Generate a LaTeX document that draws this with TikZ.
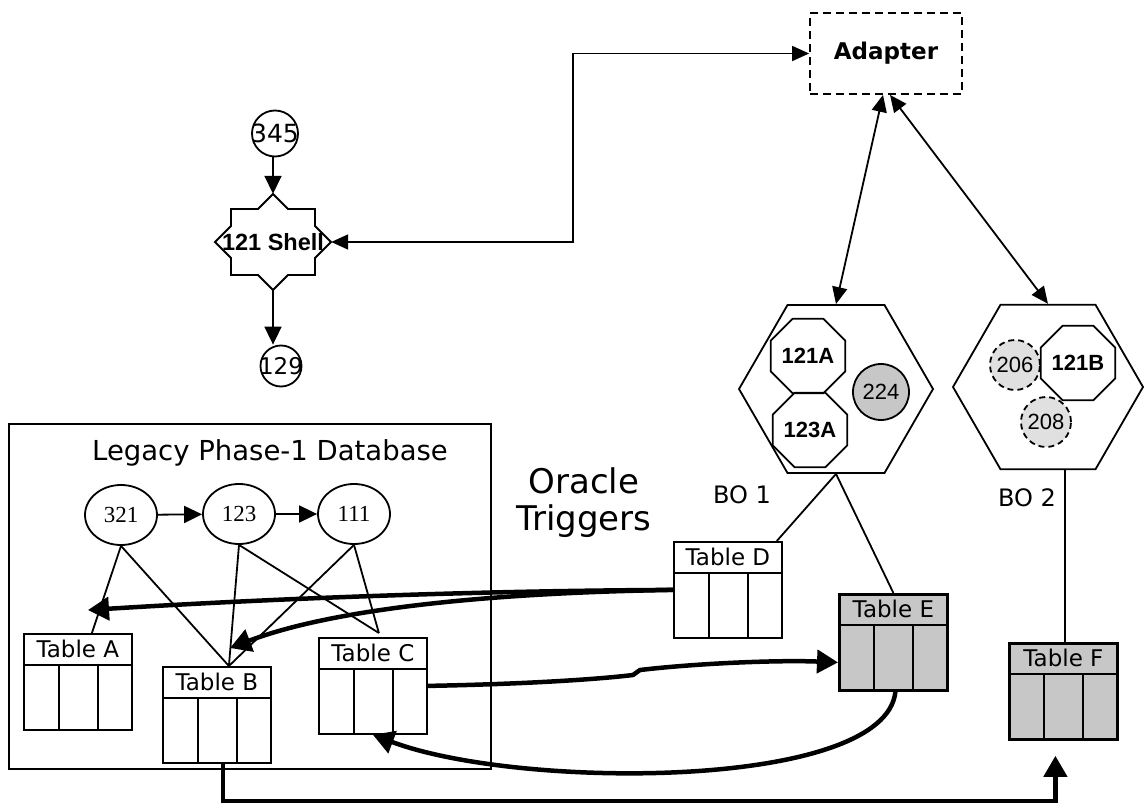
\documentclass[tikz,border=0pt]{standalone}
\usepackage{fontspec}
\setmainfont{DejaVu Sans}
\newfontfamily\arialf{Liberation Sans}
\newfontfamily\timesf{Liberation Serif}
\usetikzlibrary{arrows.meta,shapes.geometric}
\newcommand\dbtab[5]{%
  \node[tbl,#5] (#1) at (#2,#3) {};
  \draw[lnk] ([yshift=-32pt]#1.north west) -- ([yshift=-32pt]#1.north east);
  \draw[lnk] ([xshift=36pt,yshift=-32pt]#1.north west) -- ([xshift=36pt]#1.south west);
  \draw[lnk] ([xshift=75pt,yshift=-32pt]#1.north west) -- ([xshift=75pt]#1.south west);
  \node[font=\fontsize{23}{23}\selectfont, inner sep=0pt] at ([yshift=-16pt]#1.north) {#4};
}
\begin{document}
\begin{tikzpicture}[x=1pt,y=-1pt,
  lnk/.style={line width=1.8pt},
  arr/.style={lnk,-{Triangle[length=18pt,width=17pt]}},
  arrboth/.style={lnk,{Triangle[length=17pt,width=15pt]}-{Triangle[length=17pt,width=15pt]}},
  bigarr/.style={line width=4.5pt,-{Triangle[length=21pt,width=23pt]}},
  tbl/.style={draw, lnk, fill=white, inner sep=0pt, minimum width=108pt, minimum height=96pt, anchor=north west},
  shaded/.style={fill=black!22, line width=2.8pt},
  octa/.style={regular polygon, regular polygon sides=8, draw, lnk, inner sep=0pt, font=\arialf\bfseries\fontsize{22}{22}\selectfont},
  hexa/.style={regular polygon, regular polygon sides=6, draw, lnk, inner sep=0pt},
  ell/.style={ellipse, draw, lnk, minimum width=72pt, minimum height=60pt, inner sep=0pt, font=\timesf\fontsize{23}{23}\selectfont},
  numc/.style={circle, draw, lnk, inner sep=0pt}
]
\useasboundingbox (0,0) rectangle (1146,810);
\fill[white] (0,0) rectangle (1146,810);

% Adapter
\node[draw, lnk, dash pattern=on 8pt off 5pt, minimum width=152pt, minimum height=81pt, inner sep=0pt,
      font=\bfseries\fontsize{23}{23}\selectfont] (adapter) at (886,53.5) {Adapter};

% shell
\draw[lnk, fill=white] (231,209) -- (258,209) -- (273,194) -- (288,209) -- (315,209) -- (315,226) -- (331,242) -- (315,258) -- (315,275) -- (288,275) -- (273,290) -- (258,275) -- (231,275) -- (231,258) -- (215,242) -- (231,226) -- cycle;
\node[minimum width=116pt, minimum height=96pt, inner sep=0pt] (shell) at (273,242) {\arialf\bfseries\fontsize{23.5}{23.5}\selectfont 121 Shell};

\node[numc, minimum size=46pt] (c345) at (275,133.5) {\makebox[0pt]{\fontsize{25}{25}\selectfont 345}};
\node[numc, minimum size=41pt] (c129) at (281,366) {\makebox[0pt]{\fontsize{23}{23}\selectfont 129}};

\draw[arr] (c345.south -| shell.north) -- (shell.north);
\draw[arr] (shell.south) -- (shell.south |- c129.north);

\coordinate (bend) at (573,241);
\draw[arrboth] (shell.east) -- (shell.east -| bend) -- (adapter.west -| bend) -- (adapter.west);

% hexagons
\node[hexa, minimum size=194pt] (hexA) at (836,389) {};
\node[hexa, minimum size=190pt] (hexB) at (1048,387) {};
\node[octa, minimum size=74pt] (o121A) at (808,356) {121A};
\node[octa, minimum size=74pt] (o123A) at (810,430) {123A};
\node[numc, fill=black!22, minimum size=56pt, font=\arialf\fontsize{22}{22}\selectfont] (c224) at (881,392) {224};
\node[numc, fill=black!12, dash pattern=on 6pt off 4pt, minimum size=50pt, font=\arialf\fontsize{22}{22}\selectfont] (c206) at (1015,365) {206};
\node[octa, minimum size=65pt] (o121B) at (1078,363) {121B};
\node[numc, fill=black!12, dash pattern=on 6pt off 4pt, minimum size=50pt, font=\arialf\fontsize{22}{22}\selectfont] (c208) at (1046,422) {208};

\draw[arrboth] ([xshift=-3pt]adapter.south) -- (hexA.north);
\draw[arrboth] ([xshift=4pt]adapter.south) -- (hexB.north);

% labels
\node[font=\fontsize{24}{24}\selectfont] (bo1) at (742,495) {BO 1};
\node[font=\fontsize{24}{24}\selectfont] (bo2) at (1027,498) {BO 2};
\node[font=\fontsize{34}{37}\selectfont, align=center, inner sep=0pt] (oracle) at (584,503) {Oracle\\Triggers};

% legacy database
\node[draw, lnk, minimum width=482pt, minimum height=345pt, anchor=north west, inner sep=0pt] (legacy) at (8,423) {};
\node[font=\fontsize{27.5}{27.5}\selectfont, inner sep=0pt] (legtitle) at (270,453) {Legacy Phase-1 Database};

\node[ell] (e321) at (121,515) {321};
\node[ell] (e123) at (239,514) {123};
\node[ell] (e111) at (354,514) {111};
\draw[arr] (e321) -- (e123);
\draw[arr] (e123) -- (e111);

\dbtab{tA}{23}{633}{Table A}{}
\dbtab{tB}{162}{666}{Table B}{}
\dbtab{tC}{318}{637}{Table C}{}
\dbtab{tD}{673}{541}{Table D}{}
\dbtab{tE}{838}{593}{Table E}{shaded}
\dbtab{tF}{1008}{642}{Table F}{shaded}

\draw[lnk] (e321.south) -- ([xshift=14pt]tA.north);
\draw[lnk] (e321.south) -- ([xshift=12pt]tB.north);
\draw[lnk] (e123.south) -- ([xshift=12pt]tB.north);
\draw[lnk] (e123.south) -- ([xshift=6pt,yshift=4pt]tC.north);
\draw[lnk] (e111.south) -- ([xshift=12pt]tB.north);
\draw[lnk] (e111.south) -- ([xshift=6pt,yshift=4pt]tC.north);

\draw[lnk] (hexA.south) -- ([xshift=-6pt]tD.north east);
\draw[lnk] (hexA.south) -- (tE.north);
\draw[lnk] ([xshift=17pt]hexB.south) -- ([xshift=17pt]hexB.south |- tF.north);

% thick arrows
\coordinate (tipA) at (88,610);
\coordinate (tipB) at (230,648);
\coordinate (low) at (0,801);
\draw[bigarr] (tD.west) .. controls (450,591) and (250,600) .. (tipA);
\draw[bigarr] (tD.west) .. controls (480,593) and (330,610) .. (tipB);
\draw[bigarr] (tC.east) .. controls (530,684) and (600,679) .. (633,675) -- (640,670) .. controls (700,663) and (780,660) .. ([yshift=-20pt]tE.west);
\draw[bigarr] ([xshift=2pt]tE.south) .. controls (885,790) and (520,790) .. (tC.south);
\draw[bigarr, shorten >=15pt] ([xshift=6pt]tB.south) -- ([xshift=6pt]tB.south |- low) -- ([xshift=-8pt]tF.south |- low) -- ([xshift=-8pt]tF.south);
\end{tikzpicture}
\end{document}
